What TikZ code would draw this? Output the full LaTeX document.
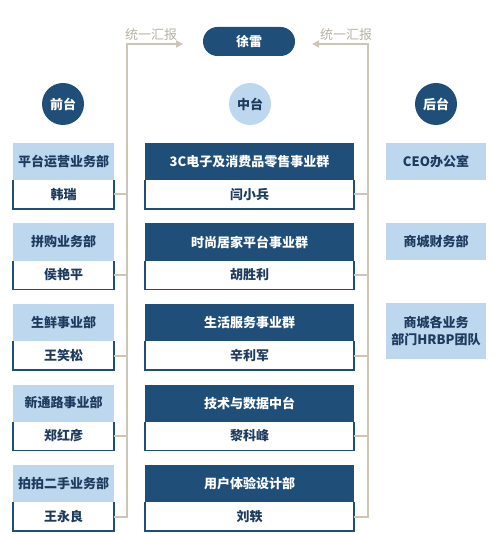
\documentclass[tikz,border=0pt]{standalone}
\usepackage{fontspec}
\setmainfont{Noto Sans CJK SC}
\usetikzlibrary{positioning, arrows.meta}
\definecolor{navy}{HTML}{1F4E79}
\definecolor{pale}{HTML}{BDD7EE}
\definecolor{ink}{HTML}{1D3B5E}
\definecolor{rail}{HTML}{CBC6B6}

\begin{document}
\begin{tikzpicture}[x=1pt, y=-1pt,
    font=\fontsize{13}{17}\selectfont\bfseries,
    every node/.style={outer sep=0pt, inner sep=0pt},
    lhead/.style={rectangle, fill=pale, text=ink, minimum width=101pt, minimum height=37pt},
    mhead/.style={rectangle, fill=navy, text=white, minimum width=209pt, minimum height=37pt},
    lname/.style={rectangle, fill=white, text=ink, minimum width=101pt, minimum height=29pt},
    mname/.style={rectangle, fill=white, text=ink, minimum width=209pt, minimum height=29pt},
    rbox/.style={rectangle, fill=pale, text=ink, minimum width=100pt, minimum height=37pt, align=center},
    tier/.style={circle, minimum size=42pt},
    frame/.style={navy, line width=1.5pt},
    link/.style={rail, line width=2pt},
    tag/.style={text=rail!90!black, font=\fontsize{13}{15}\selectfont}]
    \useasboundingbox (0,0) rectangle (500,534);
    \def\pitch{80.5}
    \def\ytop{143}

    \node[rectangle, rounded corners=14.5pt, fill=navy, text=white, minimum width=92pt, minimum height=29pt] (xu) at (249,41.5) {徐雷};

    \node[tier, fill=navy, text=white] (front) at (63,104) {前台};
    \node[tier, fill=pale, text=ink] (middle) at (250,104) {中台};
    \node[tier, fill=navy, text=white] (back) at (436,104) {后台};

    % front desk units
    \foreach \dept/\boss [count=\i] in {平台运营业务部/韩瑞, 拼购业务部/侯艳平, 生鲜事业部/王笑松, 新通路事业部/郑红彦, 拍拍二手业务部/王永良} {
        \pgfmathsetmacro\y{\ytop + (\i-1)*\pitch + 18.5}
        \node[lhead] (lh\i) at (63.5,\y) {\dept};
        \node[lname, below=0pt of lh\i] (ln\i) {\boss};
        \draw[frame] (ln\i.north west) -- (ln\i.south west) -- (ln\i.south east) -- (ln\i.north east);
    }

    % middle platform units
    \foreach \dept/\boss [count=\i] in {3C电子及消费品零售事业群/闫小兵, 时尚居家平台事业群/胡胜利, 生活服务事业群/辛利军, 技术与数据中台/黎科峰, 用户体验设计部/刘轶} {
        \pgfmathsetmacro\y{\ytop + (\i-1)*\pitch + 18.5}
        \node[mhead] (mh\i) at (249.5,\y) {\dept};
        \node[mname, below=0pt of mh\i] (mn\i) {\boss};
        \draw[frame] (mn\i.north west) -- (mn\i.south west) -- (mn\i.south east) -- (mn\i.north east);
    }

    % back office
    \node[rbox] (r1) at (436,162) {CEO办公室};
    \node[rbox] (r2) at (436,241.5) {商城财务部};
    \node[rbox, minimum height=56pt] (r3) at (436,331) {商城各业务\\部门HRBP团队};

    % reporting rails
    \coordinate (ltop) at (127,44);
    \coordinate (rtop) at (368,44);
    \draw[link, -{Triangle[length=7pt, width=7pt]}, shorten >=20pt] (ln5.east) -| (ltop) -- (ltop -| xu.west);
    \draw[link, -{Triangle[length=7pt, width=7pt]}, shorten >=17pt] (mn5.east) -| (rtop) -- (rtop -| xu.east);
    \foreach \i in {1,...,4} {
        \draw[link] (ln\i.east) -- (ln\i.east -| ltop);
        \draw[link] (mn\i.east) -- (mn\i.east -| rtop);
    }
    \node[tag, above right=3pt and -2pt of ltop] (ltag) {统一汇报};
    \node[tag, above left=3pt and -4pt of rtop] (rtag) {统一汇报};
\end{tikzpicture}
\end{document}
